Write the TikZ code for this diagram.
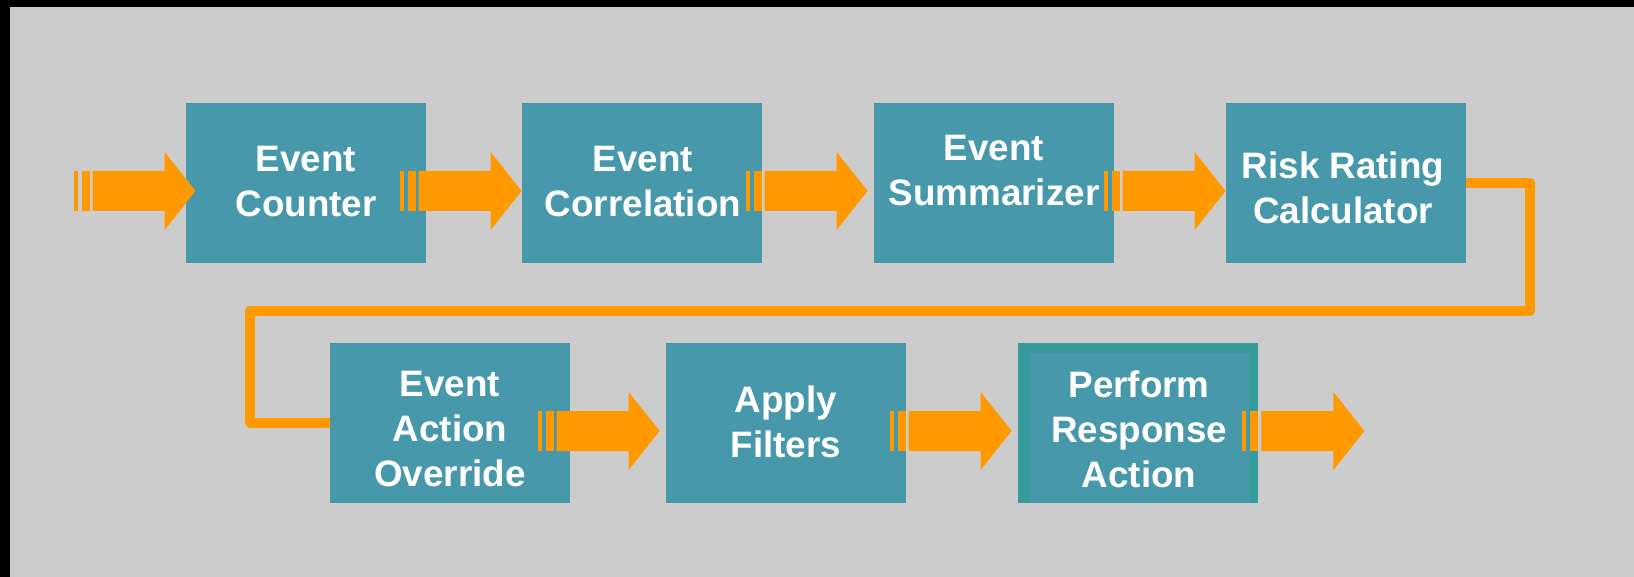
\documentclass[tikz,border=0pt]{standalone}
\usepackage{fontspec}
\setmainfont{Liberation Sans}
\usetikzlibrary{calc}
\definecolor{stagefill}{HTML}{4898AB}
\definecolor{stageframe}{HTML}{359B9B}
\definecolor{flow}{HTML}{FF9900}
\definecolor{canvas}{HTML}{CCCCCC}
\tikzset{
  stage/.style={fill=stagefill, minimum width=120pt, minimum height=80pt, inner sep=0pt},
  stagetext/.style={text=white, font=\fontsize{18.4pt}{22.5pt}\selectfont\bfseries, align=center, inner sep=0pt},
  flowline/.style={draw=flow, line width=5pt, line join=round},
}
% block arrow with two leading bars; the argument is the tip position
\newcommand\flowarrow[1]{%
  \begin{scope}[shift={#1}]
    \fill[flow] (-122,-20) rectangle (-118,20);
    \fill[flow] (-114,-20) rectangle (-106,20);
    \fill[flow] (-103,-20) -- (-31,-20) -- (-31,-39) -- (0,0) -- (-31,39) -- (-31,20) -- (-103,20) -- cycle;
  \end{scope}}
\begin{document}
\begin{tikzpicture}[x=0.5pt, y=-0.5pt]
  \useasboundingbox (0,0) rectangle (1634,577);
  \fill[black] (0,0) rectangle (1634,577);
  \fill[canvas] (10,7) rectangle (1634,577);

  % stages
  \node[stage] (b1) at (306,183) {};
  \node[stage] (b2) at (642,183) {};
  \node[stage] (b3) at (994,183) {};
  \node[stage] (b4) at (1346,183) {};
  \node[stage] (b5) at (450,423) {};
  \node[stage] (b6) at (786,423) {};
  \node[stage, fill=stageframe] (b7) at (1138,423) {};
  \fill[stagefill] ($(b7.north west)+(12,10)$) rectangle ($(b7.south east)+(-9,0)$);

  % wrap-around link from the first row to the second
  \coordinate (wr) at (1530,311);
  \coordinate (wl) at (250,311);
  \draw[flowline] (b4.east) -| (wr) -- (wl) |- (b5.west);

  % block arrows
  \flowarrow{($(b1.west)+(10,8)$)}
  \flowarrow{($(b2.west)+(0,8)$)}
  \flowarrow{($(b3.west)+(-6,8)$)}
  \flowarrow{($(b4.west)+(0,8)$)}
  \flowarrow{($(b6.west)+(-6,8)$)}
  \flowarrow{($(b7.west)+(-6,8)$)}
  \coordinate (out) at ($(b7.east)+(106,8)$);
  \flowarrow{(out)}

  % labels
  \node[stagetext] (t1) at ($(b1.center)+(0,-1)$) {Event\\Counter};
  \node[stagetext] (t2) at ($(b2.center)+(1,-1)$) {Event\\Correlation};
  \node[stagetext] (t3) at ($(b3.center)+(0,-12)$) {Event\\Summarizer};
  \node[stagetext] (t4) at ($(b4.center)+(-3,5)$) {Risk Rating\\Calculator};
  \node[stagetext] (t5) at ($(b5.center)+(0,6)$) {Event\\Action\\Override};
  \node[stagetext] (t6) at ($(b6.center)+(0,-1)$) {Apply\\Filters};
  \node[stagetext] (t7) at ($(b7.center)+(1,6)$) {Perform\\Response\\Action};
\end{tikzpicture}
\end{document}
